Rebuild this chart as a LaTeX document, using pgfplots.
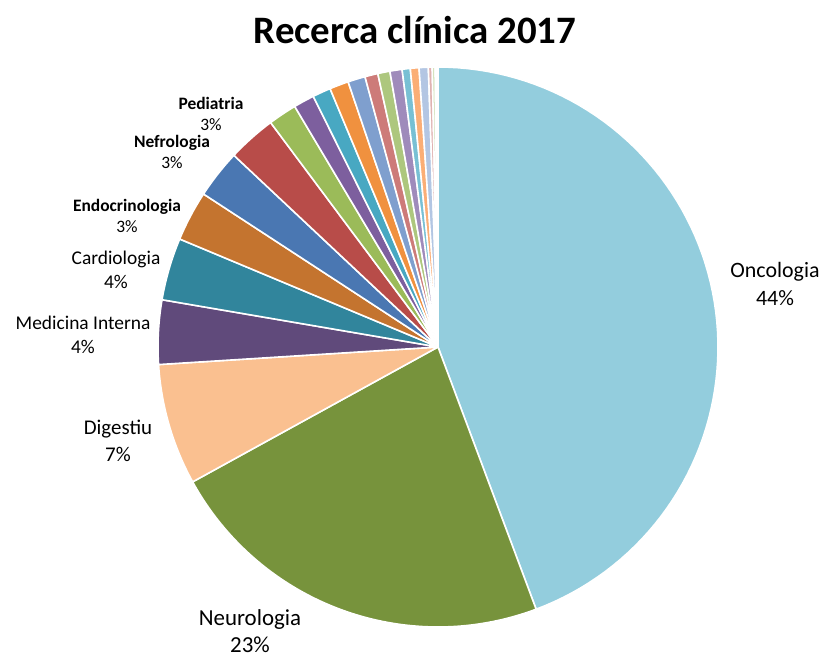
\documentclass[border=0pt]{standalone}
\usepackage{pgfplots}
\pgfplotsset{compat=1.18}
\usepackage{pgfplotstable}
\usepackage{fontspec}
\setmainfont{Carlito}

\definecolor{s1}{HTML}{93CDDD}
\definecolor{s2}{HTML}{77933C}
\definecolor{s3}{HTML}{FAC090}
\definecolor{s4}{HTML}{604A7B}
\definecolor{s5}{HTML}{31859C}
\definecolor{s6}{HTML}{C4742F}
\definecolor{s7}{HTML}{4A77B2}
\definecolor{s8}{HTML}{B84C49}
\definecolor{s9}{HTML}{9BBB59}
\definecolor{s10}{HTML}{7D5F9E}
\definecolor{s11}{HTML}{48A8C2}
\definecolor{s12}{HTML}{F0913F}
\definecolor{s13}{HTML}{7F9FCE}
\definecolor{s14}{HTML}{CD7B79}
\definecolor{s15}{HTML}{ADC77E}
\definecolor{s16}{HTML}{9F8BBB}
\definecolor{s17}{HTML}{78C0D4}
\definecolor{s18}{HTML}{FBAE76}
\definecolor{s19}{HTML}{B3C6E3}
\definecolor{s20}{HTML}{E0B2B1}
\definecolor{s21}{HTML}{CFE0B5}
\definecolor{s22}{HTML}{C6BBD8}
\definecolor{s23}{HTML}{B7DDE8}

\pgfplotstableread{
name pct col
Oncologia 44.3 s1
Neurologia 22.7 s2
Digestiu 7.0 s3
MedicinaInterna 3.7 s4
Cardiologia 3.6 s5
Endocrinologia 2.9 s6
Nefrologia 2.8 s7
Pediatria 2.8 s8
A 1.65 s9
B 1.2 s10
C 1.05 s11
D 1.1 s12
E 1.0 s13
F 0.75 s14
G 0.7 s15
H 0.7 s16
I 0.47 s17
J 0.5 s18
K 0.53 s19
L 0.22 s20
M 0.17 s21
N 0.1 s22
O 0.06 s23
}\piedata

\begin{document}
\begin{tikzpicture}
\begin{axis}[
  scale only axis, width=829bp, height=661bp,
  xmin=-438, xmax=391, ymin=-314, ymax=347,
  axis line style={draw=none}, xtick=\empty, ytick=\empty,
  clip=false,
]
\pgfplotstablegetrowsof{\piedata}
\pgfmathtruncatemacro\N{\pgfplotsretval-1}
\def\cum{0}
\pgfplotsforeachungrouped \i in {0,...,\N}{%
  \pgfplotstablegetelem{\i}{pct}\of\piedata \let\pv\pgfplotsretval
  \pgfplotstablegetelem{\i}{col}\of\piedata \let\slicecol\pgfplotsretval
  \pgfmathsetmacro\aa{90-3.6*\cum}%
  \pgfmathsetmacro\bb{90-3.6*(\cum+\pv)}%
  \pgfmathsetmacro\cum{\cum+\pv}%
  \edef\temp{\noexpand\addplot[fill=\slicecol, draw=white, line width=1.6pt, line join=round, domain=\bb:\aa, samples=80] ({280*cos(x)},{280*sin(x)}) -- (axis cs:0,0) -- cycle;}%
  \temp
}
\node[font=\fontsize{39}{44}\selectfont\bfseries] at (axis cs:-23,317) {Recerca clínica 2017};
\node[align=center, font=\fontsize{22}{28}\selectfont] at (axis cs:337,63) {Oncologia\\44\%};
\node[align=center, font=\fontsize{23}{27}\selectfont] at (axis cs:-188,-284) {Neurologia\\23\%};
\node[align=center, font=\fontsize{21}{27}\selectfont] at (axis cs:-320,-94) {Digestiu\\7\%};
\node[align=center, font=\fontsize{19.5}{24}\selectfont] at (axis cs:-355,12) {Medicina Interna\\4\%};
\node[align=center, font=\fontsize{19.5}{24}\selectfont] at (axis cs:-322,77) {Cardiologia\\4\%};
\node[align=center, font=\fontsize{17.5}{21}\selectfont] at (axis cs:-311,131) {\textbf{Endocrinologia}\\3\%};
\node[align=center, font=\fontsize{17.5}{21}\selectfont] at (axis cs:-266,195) {\textbf{Nefrologia}\\3\%};
\node[align=center, font=\fontsize{17.5}{21}\selectfont] at (axis cs:-227,233) {\textbf{Pediatria}\\3\%};
\end{axis}
\end{tikzpicture}
\end{document}
